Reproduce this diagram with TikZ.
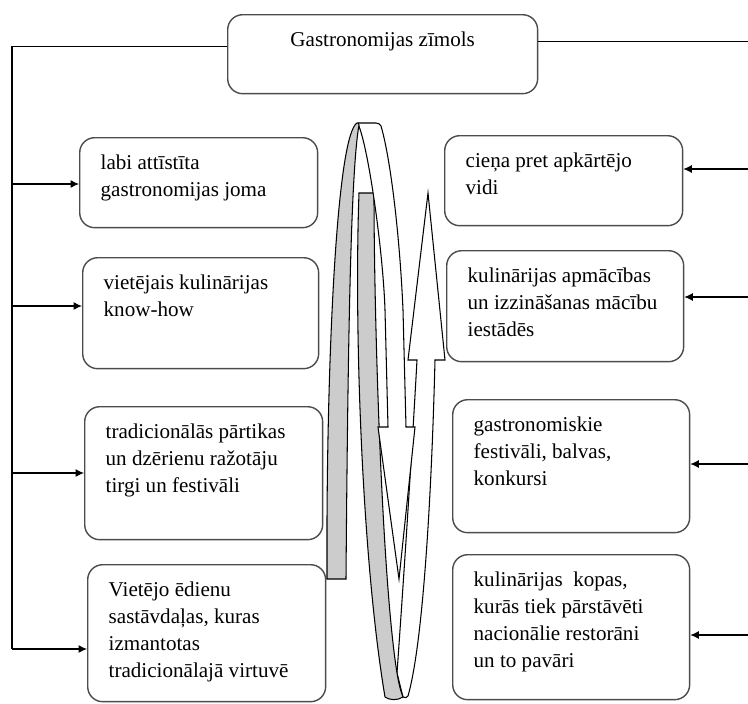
\documentclass[tikz,border=0pt]{standalone}
\usepackage{fontspec}
\setmainfont{Liberation Serif}
\usetikzlibrary{arrows.meta}
\definecolor{lentepel}{HTML}{CCCCCC}
\newcommand{\kteksts}[3]{\parbox[c][#1][t]{#2}{\raggedright\strut #3}}

\begin{document}
\begin{tikzpicture}[x=0.02cm, y=-0.02cm,
	kaste/.style={draw=black!70, line width=0.8pt, rounded corners=0.3cm, anchor=north west,
		inner xsep=0.42cm, inner ysep=0.26cm, font=\fontsize{12}{15.3}\selectfont},
	bulta/.style={-{Latex[length=0.17cm,width=0.16cm]}, line width=0.6pt},
	lente/.style={line width=0.6pt}]
	%\draw[help lines, step=50] (0,0) grid (748,704);
	\useasboundingbox (0,0) rectangle (748,704);
	\node[kaste] (t) at (227,14) {\parbox[c][1.06cm][t]{5.36cm}{\centering\strut Gastronomijas zīmols}};
	\node[kaste] (l1) at (79,137) {\kteksts{1.28cm}{3.92cm}{labi attīstīta\\ gastronomijas joma}};
	\node[kaste] (l2) at (82,257) {\kteksts{1.70cm}{3.88cm}{vietējais kulinārijas\\ know-how}};
	\node[kaste] (l3) at (84,406) {\kteksts{2.14cm}{3.92cm}{tradicionālās pārtikas\\ un dzērienu ražotāju\\ tirgi un festivāli}};
	\node[kaste] (l4) at (87,564) {\kteksts{2.22cm}{3.92cm}{Vietējo ēdienu\\ sastāvdaļas, kuras\\ izmantotas\\ tradicionālajā virtuvē}};
	\node[kaste] (r1) at (444,135) {\kteksts{1.28cm}{3.92cm}{cieņa pret apkārtējo\\ vidi}};
	\node[kaste] (r2) at (446,250) {\kteksts{1.70cm}{3.90cm}{kulinārijas apmācības\\ un izzināšanas mācību\\ iestādēs}};
	\node[kaste] (r3) at (452,399) {\kteksts{2.14cm}{3.90cm}{gastronomiskie\\ festivāli, balvas,\\ konkursi}};
	\node[kaste] (r4) at (452,554) {\kteksts{2.38cm}{3.90cm}{kulinārijas\ \ kopas,\\ kurās tiek pārstāvēti\\ nacionālie restorāni\\ un to pavāri}};
	% kreisā puse
	\coordinate (k1) at (12,184);
	\coordinate (k2) at (12,306);
	\coordinate (k3) at (12,473);
	\coordinate (k4) at (12,649);
	\draw[line width=0.6pt] ([yshift=0.15cm]t.west) -| (k4);
	\draw[bulta] (k1) -- (k1 -| l1.west);
	\draw[bulta] (k2) -- (k2 -| l2.west);
	\draw[bulta] (k3) -- (k3 -| l3.west);
	\draw[bulta] (k4) -- (k4 -| l4.west);
	% labā puse
	\coordinate (e1) at (748,169);
	\coordinate (e2) at (748,297);
	\coordinate (e3) at (748,464);
	\coordinate (e4) at (748,635);
	\draw[line width=0.6pt] ([yshift=0.25cm]t.east) -- ([yshift=0.25cm]t.east -| e1);
	\draw[bulta] (e1) -- (e1 -| r1.east);
	\draw[bulta] (e2) -- (e2 -| r2.east);
	\draw[bulta] (e3) -- (e3 -| r3.east);
	\draw[bulta] (e4) -- (e4 -| r4.east);
	% lente ar bultām
	\draw[lente, fill=white] (403,697) .. controls (405,698) and (407,698) .. (408,696)
		.. controls (424,640) and (432,480) .. (435,360) -- (445,360) -- (428,193) -- (408,360) -- (417,360)
		.. controls (412,450) and (405,560) .. (397,673) -- cycle;
	\draw[lente, fill=lentepel] (359,193) -- (374,193) .. controls (374,320) and (382,580) .. (397,673)
		.. controls (399,685) and (401,692) .. (403,697) .. controls (397,701) and (389,700) .. (385,697)
		.. controls (362,560) and (354,330) .. (359,193) -- cycle;
	\draw[lente, fill=white] (358,123) -- (376,123) .. controls (378,123) and (380,124) .. (381,126)
		.. controls (391,160) and (400,240) .. (403,310) -- (406,427) -- (415,427) -- (399,579)
		-- (378,427) -- (388,427) -- (385,310) .. controls (383,250) and (368,145) .. (358,124) -- cycle;
	\draw[lente, fill=lentepel] (327,579) -- (346,579) .. controls (348,330) and (351,170) .. (359,125)
		.. controls (359,123) and (358,123) .. (357,123) .. controls (338,135) and (328,330) .. (327,520) -- cycle;
\end{tikzpicture}
\end{document}
